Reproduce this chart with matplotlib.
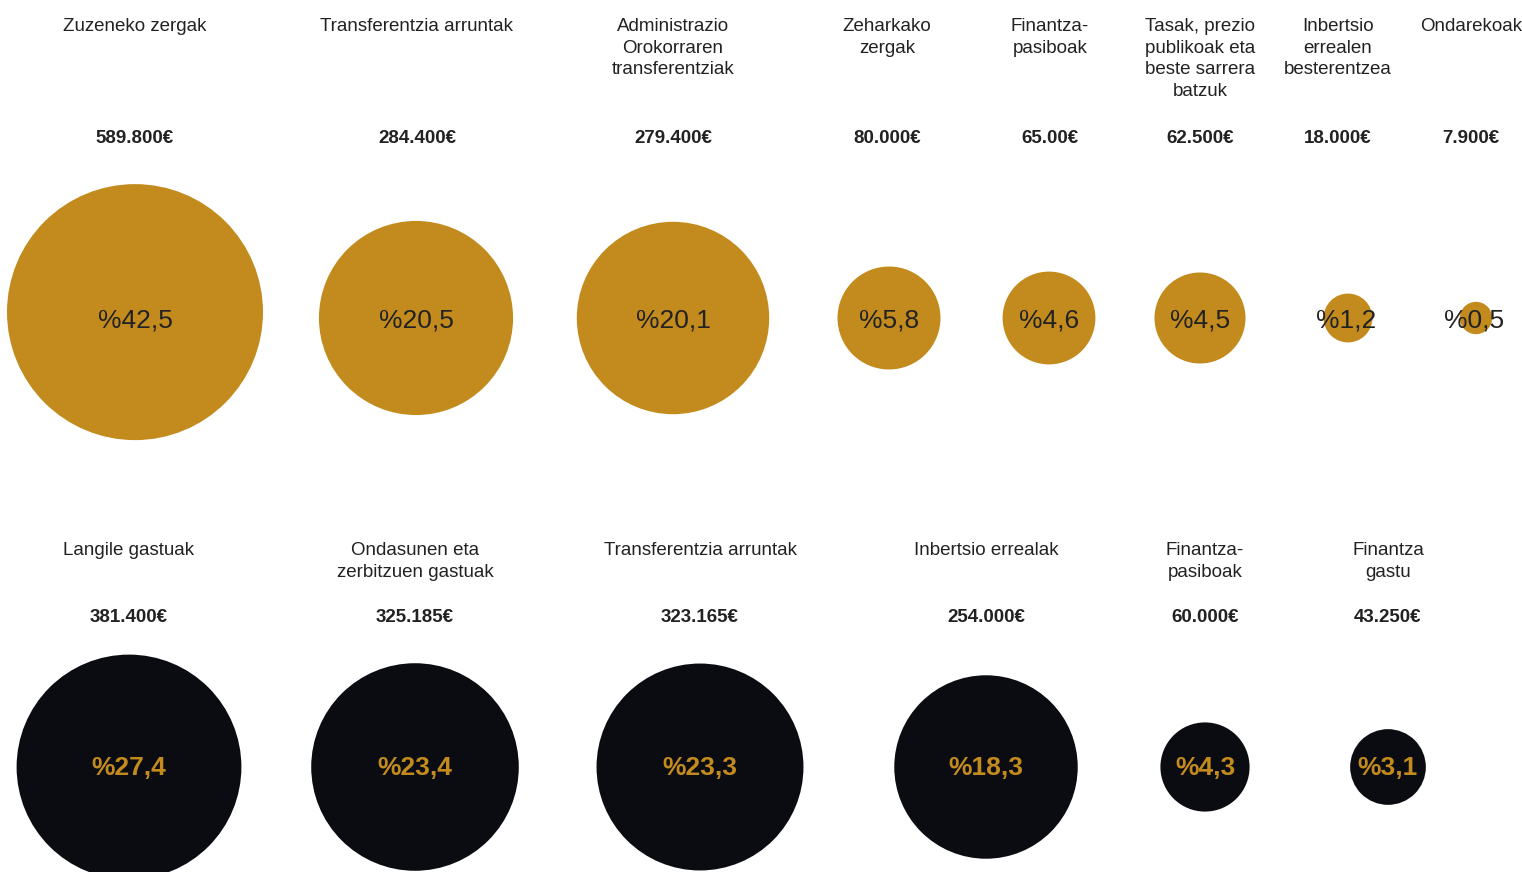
import numpy as np
import matplotlib
matplotlib.use("Agg")
import matplotlib.pyplot as plt
from matplotlib.patches import Circle

plt.rcParams['font.family'] = ['Liberation Sans', 'DejaVu Sans']

# Diru-sarrerak (top row)
income_labels = ["Zuzeneko zergak", "Transferentzia arruntak",
                 "Administrazio\nOrokorraren\ntransferentziak",
                 "Zeharkako\nzergak", "Finantza-\npasiboak",
                 "Tasak, prezio\npublikoak eta\nbeste sarrera\nbatzuk",
                 "Inbertsio\nerrealen\nbesterentzea", "Ondarekoak"]
income_values = [589800, 284400, 279400, 80000, 65000, 62500, 18000, 7900]
income_value_text = ["589.800€", "284.400€", "279.400€", "80.000€", "65.00€",
                     "62.500€", "18.000€", "7.900€"]
income_pct = ["%42,5", "%20,5", "%20,1", "%5,8", "%4,6", "%4,5", "%1,2", "%0,5"]

# Gastuak (bottom row)
expense_labels = ["Langile gastuak", "Ondasunen eta\nzerbitzuen gastuak",
                  "Transferentzia arruntak", "Inbertsio errealak",
                  "Finantza-\npasiboak", "Finantza\ngastu"]
expense_values = [381400, 325185, 323165, 254000, 60000, 43250]
expense_value_text = ["381.400€", "325.185€", "323.165€", "254.000€",
                      "60.000€", "43.250€"]
expense_pct = ["%27,4", "%23,4", "%23,3", "%18,3", "%4,3", "%3,1"]

# layout (pixels)
W, H = 1522, 872
GOLD = '#C38B1D'
DARK = '#0A0C11'
TXT = '#222222'
K = 0.182        # radius per sqrt(euro)
R_MAX = 128

top_label_x = [135, 417, 673, 887, 1050, 1200, 1338, 1471]
top_circle_x = [135, 416, 673, 889, 1049, 1200, 1348, 1476]
bot_x = [129, 415, 700, 986, 1205, 1388]

fig = plt.figure(figsize=(W / 100, H / 100), dpi=100)
ax = fig.add_axes([0, 0, 1, 1])
ax.set_xlim(0, W)
ax.set_ylim(H, 0)
ax.set_aspect('equal')
ax.axis('off')


def draw_row(labels, values, vtext, pct, lx, cx, label_y, value_y, circ_y,
             pct_y, fill, pct_color, pct_weight):
    for i in range(len(values)):
        r_raw = K * np.sqrt(values[i])
        r = min(r_raw, R_MAX)
        # capped circles sit a bit higher (box top-aligned)
        cy = circ_y - (r_raw - r) / 2
        ax.add_patch(Circle((cx[i], cy), r, color=fill, lw=0, zorder=1))
        ax.text(lx[i], label_y, labels[i], ha='center', va='top',
                fontsize=13.5, color=TXT, linespacing=1.36)
        ax.text(lx[i], value_y, vtext[i], ha='center', va='center',
                fontsize=13.5, fontweight='bold', color=TXT)
        ax.text(cx[i] - (2 if r < 30 else 0), pct_y,
                pct[i], ha='center', va='center', fontsize=19,
                color=pct_color, fontweight=pct_weight, zorder=2)


draw_row(income_labels, income_values, income_value_text, income_pct,
         top_label_x, top_circle_x, 18, 138, 318, 320, GOLD, TXT, 'normal')
draw_row(expense_labels, expense_values, expense_value_text, expense_pct,
         bot_x, bot_x, 542, 617, 767, 768, DARK, GOLD, 'bold')

fig.savefig("out.png", dpi=100, facecolor='white')
